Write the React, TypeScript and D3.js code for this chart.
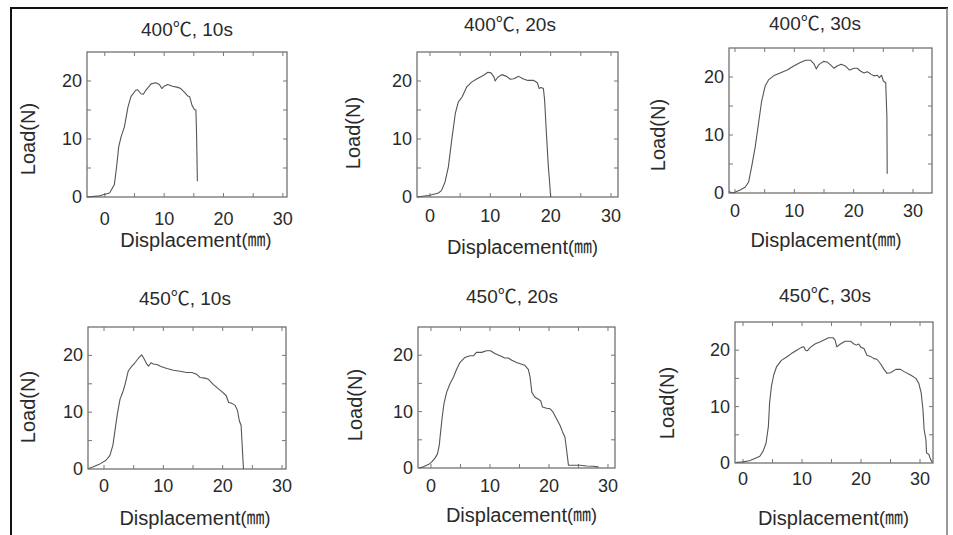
import React from "react";
import { scaleLinear, line, range } from "d3";

const width = 953;
const height = 535;
const font = '"Liberation Sans", "Noto Sans CJK KR", sans-serif';
const yMax = 25;
const tickLen = 4;

const titles = ["400℃, 10s", "400℃, 20s", "400℃, 30s", "450℃, 10s", "450℃, 20s", "450℃, 30s"];
const xTickLabels = [0, 10, 20, 30];
const yTickLabels = [0, 10, 20];
const xLabel = "Displacement";
const xUnit = "(㎜)";
const yLabel = "Load(N)";

// load-displacement curves, [displacement, load]
const curve400_10 = [
  [-3, 0], [-0.9, 0.2], [0.8, 0.7], [1.6, 2.1], [2.0, 5.3], [2.35, 8.7], [2.75, 10.4], [3.3, 12.1],
  [3.9, 15.5], [4.4, 17.3], [5.2, 18.4], [5.5, 18.5], [6.1, 17.8], [6.5, 17.7], [6.9, 18.4], [7.8, 19.5],
  [8.6, 19.7], [9.2, 19.4], [9.6, 18.7], [10, 19.1], [10.6, 19.4], [11.4, 19.1], [12.3, 18.9], [12.8, 18.7],
  [13.4, 18.1], [14, 17.4], [14.3, 17.3], [14.7, 15.8], [15.1, 15.1], [15.35, 15], [15.46, 11], [15.6, 2.7],
];
const curve400_20 = [
  [-2.1, 0], [0, 0.3], [1.4, 0.7], [1.9, 1.1], [2.5, 2.6], [3.05, 5.2], [3.6, 9.8], [4.2, 14.4],
  [4.7, 16.4], [5.3, 17.2], [6.1, 19], [6.9, 19.8], [7.8, 20.4], [8.9, 21], [9.6, 21.5], [10.1, 21.4],
  [10.6, 20.7], [10.8, 20], [11.2, 20.6], [11.9, 21.1], [12.7, 20.8], [13.3, 20.3], [13.9, 20.4], [14.7, 20.8],
  [15.4, 20.4], [16.2, 20.1], [17.2, 20.1], [17.8, 19.7], [18.1, 18.7], [18.4, 18.9], [18.8, 18.7], [19, 16.7],
  [19.3, 10.9], [19.6, 5.5], [19.8, 2.9], [20, 0],
];
const curve400_30 = [
  [-1, 0.2], [-0.3, 0], [0.85, 0.5], [1.7, 1], [2.3, 1.9], [2.8, 4.5], [3.4, 7.9], [3.95, 11.9],
  [4.5, 15.9], [5.1, 18.5], [5.65, 19.5], [6.5, 20.2], [7.6, 20.7], [8.8, 21.2], [9.9, 21.9], [11, 22.5],
  [11.9, 22.9], [12.7, 22.9], [13.3, 22.3], [13.7, 21.4], [14.1, 22.1], [14.9, 22.7], [15.5, 22.6], [16.1, 22.1],
  [16.7, 21.5], [17.2, 21.9], [17.9, 22.2], [18.6, 21.9], [19.3, 21.2], [20.1, 21.5], [20.6, 21.5], [21.2, 21],
  [21.75, 20.7], [22.3, 20.9], [22.9, 20.5], [23.4, 20.2], [24, 20.3], [24.3, 19.9], [24.7, 20.3], [25, 19.3],
  [25.4, 19], [25.6, 13], [25.65, 3.3],
];
const curve450_10 = [
  [-2.6, 0.1], [-1.8, 0.4], [-0.7, 0.9], [0.3, 1.5], [1, 2.4], [1.5, 4.2], [1.85, 6.8], [2.25, 9.7],
  [2.7, 12.3], [3.15, 13.5], [3.5, 14.7], [4.1, 17.3], [4.7, 18.1], [5.2, 18.7], [5.8, 19.5], [6.35, 20.1],
  [6.7, 19.5], [7.2, 18.5], [7.5, 18.1], [7.9, 18.7], [8.3, 18.5], [8.9, 18.4], [9.7, 18], [10.6, 17.7],
  [11.7, 17.4], [12.8, 17.2], [13.9, 17], [14.8, 17], [15.6, 16.7], [16.2, 16.1], [17, 16], [17.6, 15.8],
  [18.4, 14.9], [19.3, 14.1], [20, 13.5], [20.6, 12.9], [21, 11.7], [21.5, 11.6], [22.1, 11.2], [22.5, 10.3],
  [22.8, 8.5], [23.1, 7.7], [23.3, 3.9], [23.5, 0],
];
const curve450_20 = [
  [-2, 0], [-1.3, 0.2], [-0.45, 0.6], [0.1, 1.05], [0.7, 1.8], [1.1, 2.5], [1.4, 4], [1.6, 6.1],
  [1.9, 9], [2.2, 11.4], [2.65, 13.4], [3.2, 14.9], [3.8, 16.1], [4.35, 17.5], [4.9, 18.7], [5.75, 19.6],
  [6.6, 19.9], [7.2, 19.9], [7.7, 20.5], [8.6, 20.5], [9.4, 20.8], [10.1, 20.8], [10.8, 20.3], [11.7, 19.9],
  [12.5, 19.5], [13.1, 19.5], [13.7, 19.1], [14.5, 18.7], [15.4, 18.4], [15.9, 18.2], [16.5, 17.5], [16.8, 16.1],
  [17.1, 13.4], [17.6, 12.6], [18.2, 12.2], [18.6, 11.9], [18.9, 10.8], [19.6, 10.6], [20.2, 10.5], [20.7, 9.9],
  [21.3, 8.7], [21.9, 7.5], [22.3, 6.4], [22.7, 5.5], [23, 3.1], [23.3, 0.5], [24.1, 0.5], [25.3, 0.5],
  [26.4, 0.35], [27.5, 0.3], [28.4, 0.2],
];
const curve450_30 = [
  [-1.25, 0.1], [0, 0.2], [1.1, 0.4], [2, 0.8], [2.85, 1.2], [3.4, 2.1], [3.9, 3.5], [4.3, 6.5],
  [4.5, 10.6], [4.8, 13.5], [5.2, 15.6], [5.7, 17.1], [6.5, 18.2], [7.4, 18.8], [8.2, 19.4], [9.1, 20],
  [9.9, 20.5], [10.3, 20.6], [10.6, 20], [10.9, 19.9], [11.4, 20.5], [12.2, 21.1], [13.1, 21.5], [13.9, 21.9],
  [14.5, 22.2], [15.3, 22.2], [15.6, 21.8], [15.9, 20.6], [16.5, 21.1], [17.3, 21.6], [18.2, 21.6], [18.8, 21.1],
  [19.2, 20.9], [19.6, 21.1], [20, 20.5], [20.5, 20.3], [21, 19.1], [21.6, 18.9], [22.2, 18.5], [22.7, 18.4],
  [23.3, 17.6], [23.9, 16.6], [24.4, 15.9], [25, 16], [25.9, 16.6], [26.7, 16.6], [27.3, 16.2], [28.4, 15.6],
  [29.3, 15], [29.8, 14.1], [30.2, 12.4], [30.5, 9.4], [30.7, 5.9], [31, 4.1], [31.1, 1.8], [31.5, 1.5],
  [31.8, 0.6], [32.1, 0.1],
];
const curves = [curve400_10, curve400_20, curve400_30, curve450_10, curve450_20, curve450_30];

// plot box placement for each panel
const panels = [
  { left: 87, top: 52, right: 287, bottom: 197, xMin: -3, xMax: 30.7, titleX: 187, titleY: 29, yLabX: 28, yLabY: 139, tickY: 219, xLabY: 240 },
  { left: 417, top: 52, right: 618, bottom: 197, xMin: -2.15, xMax: 31.16, titleX: 510, titleY: 24, yLabX: 353, yLabY: 133, tickY: 216, xLabY: 247 },
  { left: 729, top: 48, right: 932, bottom: 193, xMin: -1.01, xMax: 33.2, titleX: 815, titleY: 23, yLabX: 658, yLabY: 135, tickY: 211, xLabY: 240 },
  { left: 88, top: 327, right: 286, bottom: 469, xMin: -2.7, xMax: 30.67, titleX: 185, titleY: 298, yLabX: 28, yLabY: 407, tickY: 486, xLabY: 518 },
  { left: 418, top: 327, right: 615, bottom: 468, xMin: -2.2, xMax: 31.19, titleX: 512, titleY: 296, yLabX: 355, yLabY: 405, tickY: 486, xLabY: 515 },
  { left: 735, top: 322, right: 933, bottom: 463, xMin: -1.36, xMax: 32.2, titleX: 825, titleY: 295, yLabX: 667, yLabY: 403, tickY: 479, xLabY: 518 },
];

function Panel({ p, data, title }) {
  const x = scaleLinear().domain([p.xMin, p.xMax]).range([p.left, p.right]);
  const y = scaleLinear().domain([0, yMax]).range([p.bottom, p.top]);
  const path = line()
    .x((d) => x(d[0]))
    .y((d) => y(d[1]));
  const xMinor = range(0, p.xMax, 5);
  const yMinor = range(5, yMax, 5);

  return (
    <g fontFamily={font} fill="#2a2a2a">
      <text x={p.titleX} y={p.titleY} fontSize={19} textAnchor="middle" dominantBaseline="central">
        {title}
      </text>
      <rect
        x={p.left}
        y={p.top}
        width={p.right - p.left}
        height={p.bottom - p.top}
        fill="none"
        stroke="#666"
        strokeWidth={1.2}
      />
      {xMinor.map((t) => (
        <g key={`xt${t}`} stroke="#777" strokeWidth={1}>
          <line x1={x(t)} x2={x(t)} y1={p.bottom} y2={p.bottom - tickLen} />
          <line x1={x(t)} x2={x(t)} y1={p.top} y2={p.top + tickLen} />
        </g>
      ))}
      {yMinor.map((t) => (
        <g key={`yt${t}`} stroke="#777" strokeWidth={1}>
          <line x1={p.left} x2={p.left + tickLen} y1={y(t)} y2={y(t)} />
          <line x1={p.right} x2={p.right - tickLen} y1={y(t)} y2={y(t)} />
        </g>
      ))}
      {xTickLabels.map((t) => (
        <text key={`xl${t}`} x={x(t)} y={p.tickY} fontSize={18} textAnchor="middle" dominantBaseline="central">
          {t}
        </text>
      ))}
      {yTickLabels.map((t) => (
        <text key={`yl${t}`} x={p.left - 5} y={y(t)} fontSize={18} textAnchor="end" dominantBaseline="central">
          {t}
        </text>
      ))}
      <text x={x(15) + 2} y={p.xLabY} fontSize={20} textAnchor="middle" dominantBaseline="central">
        {xLabel}
        <tspan fontSize={18}>{xUnit}</tspan>
      </text>
      <text
        transform={`translate(${p.yLabX},${p.yLabY}) rotate(-90)`}
        fontSize={20}
        textAnchor="middle"
        dominantBaseline="central"
      >
        {yLabel}
      </text>
      <path d={path(data)} fill="none" stroke="#555" strokeWidth={1.1} strokeLinejoin="round" />
    </g>
  );
}

export default function App() {
  return (
    <svg
      width={width}
      height={height}
      style={{ position: "absolute", left: 0, top: 0, background: "#fff" }}
    >
      <rect width={width} height={height} fill="#fff" />
      <line x1={11} x2={11} y1={7} y2={height} stroke="#111" strokeWidth={2} />
      <line x1={10} x2={948} y1={8} y2={8} stroke="#111" strokeWidth={2} />
      <line x1={947} x2={947} y1={8} y2={height} stroke="#777" strokeWidth={1.5} />
      {panels.map((p, i) => (
        <Panel key={i} p={p} data={curves[i]} title={titles[i]} />
      ))}
    </svg>
  );
}
